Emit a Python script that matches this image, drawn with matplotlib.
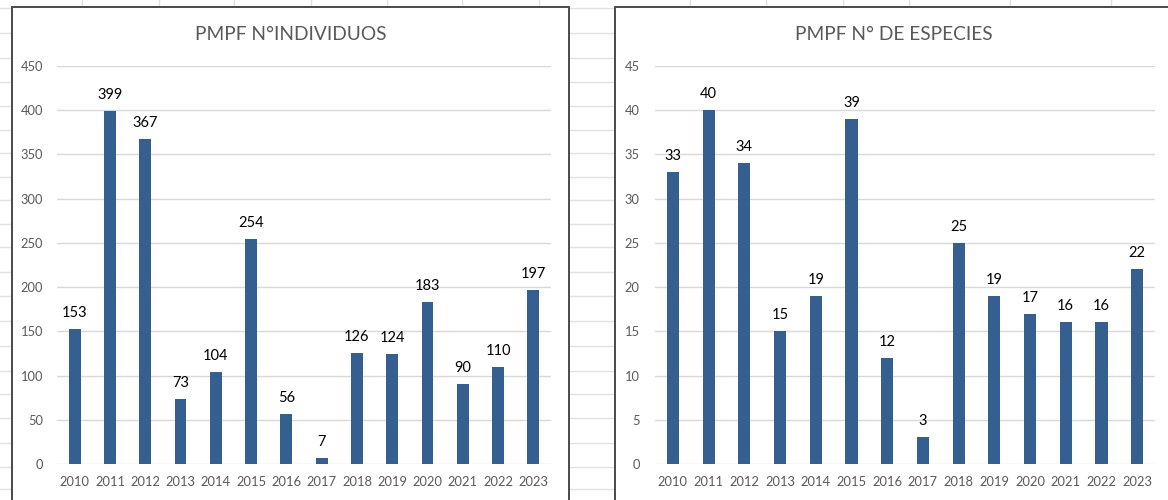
import matplotlib.pyplot as plt
from matplotlib.patches import Rectangle

plt.rcParams['font.family'] = ['Lato', 'DejaVu Sans']

years = ['2010', '2011', '2012', '2013', '2014', '2015', '2016',
         '2017', '2018', '2019', '2020', '2021', '2022', '2023']
individuos = [153, 399, 367, 73, 104, 254, 56, 7, 126, 124, 183, 90, 110, 197]
especies = [33, 40, 34, 15, 19, 39, 12, 3, 25, 19, 17, 16, 16, 22]

BAR = '#365f91'
GRID = '#d9d9d9'
TXT = '#595959'

W, H = 1168, 500
fig = plt.figure(figsize=(W / 100, H / 100), dpi=100)

# spreadsheet background (cell grid seen around the two charts)
bg = fig.add_axes([0, 0, 1, 1])
bg.set_xlim(0, W)
bg.set_ylim(H, 0)
bg.axis('off')
row_lines = [8, 33, 58, 82, 106, 130, 153, 177, 200, 224, 247, 272, 296,
             321, 346, 371, 394, 418, 443, 467, 489]
col_lines = [82, 159, 234, 311, 387, 462, 539, 690, 766, 843, 909, 1010, 1111]
for y in row_lines:
    bg.plot([0, W], [y, y], color='#e1e1e1', lw=1, zorder=1)
for x in col_lines:
    bg.plot([x, x], [0, H], color='#e1e1e1', lw=1, zorder=1)

# chart areas
for x0, x1 in [(12, 569), (615, 1172)]:
    bg.add_patch(Rectangle((x0, 7), x1 - x0, H, facecolor='white',
                           edgecolor='#4a4a4a', lw=1.4, zorder=2))

bg.text(291, 34, 'PMPF N°INDIVIDUOS', ha='center', va='center',
        fontsize=13.8, color=TXT, zorder=3)
bg.text(894, 34, 'PMPF N° DE ESPECIES', ha='center', va='center',
        fontsize=13.8, color=TXT, zorder=3)


def draw_chart(ax, values, ymax, step, ypad):
    x = range(len(years))
    ax.set_facecolor('none')
    ax.bar(x, values, width=0.34, color=BAR, zorder=3)
    for xi, v in zip(x, values):
        ax.annotate(str(v), (xi, v), xytext=(0, 6.5), textcoords='offset points',
                    ha='center', va='bottom', fontsize=10.5, color='black')
    ax.set_xlim(-0.5, len(years) - 0.5)
    ax.set_ylim(0, ymax)
    ax.set_yticks(range(0, ymax + 1, step))
    ax.set_xticks(list(x))
    ax.set_xticklabels(years)
    ax.grid(axis='y', color=GRID, lw=1, zorder=0)
    ax.set_axisbelow(True)
    for s in ax.spines.values():
        s.set_visible(False)
    ax.tick_params(axis='y', length=0, pad=ypad, labelsize=9.3, labelcolor=TXT)
    ax.tick_params(axis='x', length=0, pad=9, labelsize=9.3, labelcolor=TXT)


ax1 = fig.add_axes([57 / W, 1 - 464 / H, 494 / W, 398 / H])
draw_chart(ax1, individuos, 450, 50, 10)

ax2 = fig.add_axes([655 / W, 1 - 464 / H, 500 / W, 398 / H])
draw_chart(ax2, especies, 45, 5, 11)

fig.savefig('out.png', dpi=100)
